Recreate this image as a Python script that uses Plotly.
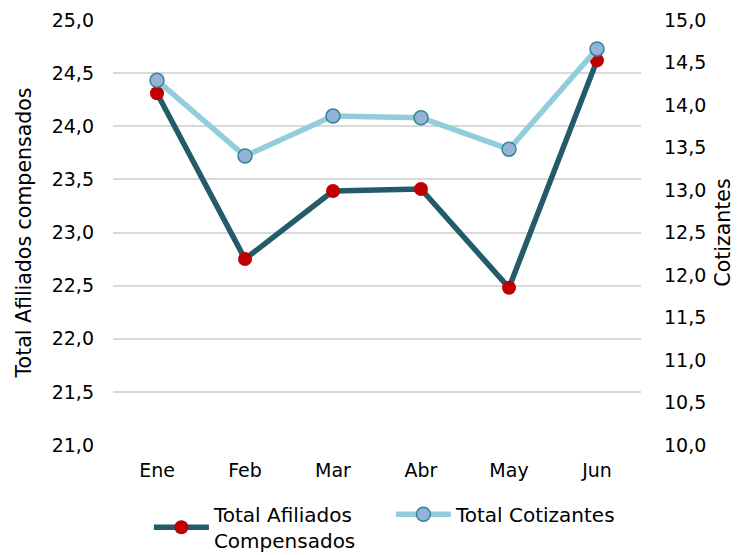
import plotly.graph_objects as go

meses = ["Ene", "Feb", "Mar", "Abr", "May", "Jun"]
afiliados = [24.31, 22.75, 23.39, 23.41, 22.48, 24.62]
cotizantes = [14.29, 13.40, 13.87, 13.85, 13.48, 14.66]
left_ticks = [21.0, 21.5, 22.0, 22.5, 23.0, 23.5, 24.0, 24.5, 25.0]
right_ticks = [10.0, 10.5, 11.0, 11.5, 12.0, 12.5, 13.0, 13.5, 14.0, 14.5, 15.0]

FONT = "DejaVu Sans, Verdana, sans-serif"
TICK = 19
TITLE = 20.5

fig = go.Figure()
fig.add_trace(go.Scatter(
    x=meses, y=afiliados, name="Total Afiliados<br>Compensados",
    mode="lines+markers",
    line=dict(color="#235B6A", width=5.5),
    marker=dict(color="#C00000", size=14, line=dict(width=0)),
    yaxis="y",
))
fig.add_trace(go.Scatter(
    x=meses, y=cotizantes, name="Total Cotizantes",
    mode="lines+markers",
    line=dict(color="#92CDDC", width=5.5),
    marker=dict(color="#95B3D7", size=14, line=dict(color="#31859C", width=1.5)),
    yaxis="y2",
))

fig.update_layout(
    width=732, height=547,
    margin=dict(l=105, r=99, t=12, b=110, autoexpand=False),
    paper_bgcolor="white", plot_bgcolor="white",
    font=dict(family=FONT, size=TICK, color="#000000"),
    separators=",.",
    showlegend=True,
    legend=dict(orientation="h", x=0.068, xanchor="left", y=-0.117, yanchor="top",
                font=dict(size=20), traceorder="normal", itemwidth=55,
                entrywidth=172, entrywidthmode="pixels"),
    xaxis=dict(showgrid=False, showline=False, ticks="", zeroline=False,
               range=[-0.5, 5.5], tickfont=dict(size=TICK), automargin=False,
               ticklabelstandoff=12),
    yaxis=dict(range=[21, 25], tickvals=left_ticks, tickformat=".1f",
               showgrid=True, gridcolor="#D9D9D9", gridwidth=1.5,
               zeroline=False, showline=False, ticks="", automargin=False,
               ticklabelstandoff=18, tickfont=dict(size=TICK),
               title=dict(text="Total Afiliados compensados", font=dict(size=TITLE), standoff=14)),
    yaxis2=dict(range=[10, 15], tickvals=right_ticks, tickformat=".1f",
                overlaying="y", side="right", showgrid=False, automargin=False,
                zeroline=False, showline=False, ticks="",
                ticklabelstandoff=22, tickfont=dict(size=TICK),
                title=dict(text="Cotizantes", font=dict(size=TITLE), standoff=10)),
)

fig.write_html("out.html")
